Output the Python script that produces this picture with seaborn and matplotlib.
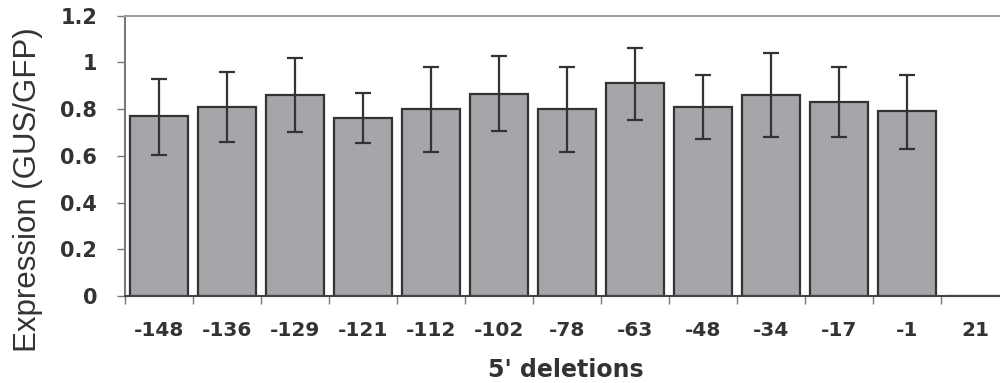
import matplotlib
matplotlib.use("Agg")
import matplotlib.pyplot as plt
import seaborn as sns
import numpy as np
import pandas as pd

categories = ["-148", "-136", "-129", "-121", "-112", "-102", "-78", "-63",
              "-48", "-34", "-17", "-1", "21"]
expression = [0.77, 0.81, 0.86, 0.76, 0.80, 0.865, 0.80, 0.91,
              0.81, 0.86, 0.83, 0.79, 0.002]
err_low = [0.165, 0.15, 0.16, 0.105, 0.185, 0.16, 0.185, 0.155,
           0.14, 0.18, 0.15, 0.16, 0.0]
err_high = [0.16, 0.15, 0.16, 0.11, 0.18, 0.16, 0.18, 0.15,
            0.135, 0.18, 0.15, 0.155, 0.0]
y_ticks = [0, 0.2, 0.4, 0.6, 0.8, 1.0, 1.2]
y_tick_labels = ["0", "0.2", "0.4", "0.6", "0.8", "1", "1.2"]

df = pd.DataFrame({"deletion": categories, "expr": expression})

sns.set_style("white")
plt.rcParams["font.family"] = ["DejaVu Sans"]

fig = plt.figure(figsize=(10, 3.83), dpi=100)
ax = fig.add_axes([0.125, 0.227, 0.884, 0.7325])

sns.barplot(data=df, x="deletion", y="expr", order=categories, ax=ax,
            color="#a4a6a9", saturation=1, width=0.85,
            edgecolor="#333333", linewidth=1.6, errorbar=None)

centers = [p.get_x() + p.get_width() / 2 for p in ax.patches]
for c, v, lo, hi in zip(centers, expression, err_low, err_high):
    if lo > 0 or hi > 0:
        ax.errorbar(c, v, yerr=[[lo], [hi]], fmt="none", ecolor="#333333",
                    elinewidth=1.6, capsize=5.5, capthick=1.6, zorder=5)

ax.set_xlim(-0.5, len(categories) - 0.5)
ax.set_ylim(0, 1.2)
ax.set_yticks(y_ticks)
ax.set_yticklabels(y_tick_labels)

ax.set_xticks(range(len(categories)))
ax.set_xticklabels(categories)
ax.set_xticks(np.arange(-0.5, len(categories), 1.0), minor=True)
ax.tick_params(axis="x", which="major", length=0, pad=18,
               labelsize=14.5, labelcolor="#333333")
ax.tick_params(axis="x", which="minor", length=6, width=1.0,
               color="#777777", direction="out", bottom=True)
ax.tick_params(axis="y", which="major", length=6, width=1.0,
               color="#777777", direction="out", left=True, pad=14,
               labelsize=15, labelcolor="#333333")
for lab in ax.get_xticklabels() + ax.get_yticklabels():
    lab.set_fontweight("bold")

ax.spines["top"].set_visible(True)
ax.spines["top"].set_color("#a0a0a0")
ax.spines["top"].set_linewidth(1.5)
ax.spines["right"].set_visible(False)
ax.spines["left"].set_color("#777777")
ax.spines["left"].set_linewidth(1.5)
ax.spines["bottom"].set_color("#444444")
ax.spines["bottom"].set_linewidth(1.5)

ax.set_xlabel("")
ax.set_ylabel("")
fig.text(0.566, 0.002, "5' deletions", ha="center", va="bottom",
         fontsize=17, fontweight="bold", color="#333333")
fig.text(0.028, 0.505, "Expression (GUS/GFP)", ha="center", va="center",
         rotation=90, fontsize=22.5, color="#333333",
         family="Liberation Sans")

fig.savefig("out.png", dpi=100, facecolor="white")
